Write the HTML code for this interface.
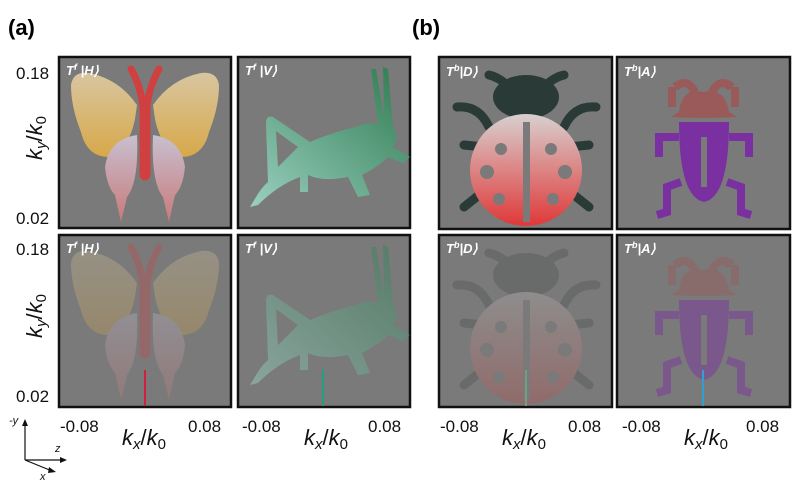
<!DOCTYPE html><html><head><style>body{margin:0;background:#fff}svg{display:block}text{font-family:"Liberation Sans",sans-serif}</style></head><body>
<svg width="800" height="494" viewBox="0 0 800 494">
<defs>
<linearGradient id="wg" x1="0" y1="0" x2="0" y2="1"><stop offset="0" stop-color="#d8c6a0"/><stop offset="1" stop-color="#d8a84a"/></linearGradient>
<linearGradient id="pg" x1="0" y1="0" x2="0" y2="1"><stop offset="0" stop-color="#c8c0d0"/><stop offset="1" stop-color="#c87a7a"/></linearGradient>
<linearGradient id="gg" x1="1" y1="0" x2="0" y2="1"><stop offset="0" stop-color="#2e7a50"/><stop offset="1" stop-color="#9ad0c0"/></linearGradient>
<linearGradient id="lg" x1="0" y1="0" x2="0" y2="1"><stop offset="0" stop-color="#d8d0d0"/><stop offset="1" stop-color="#e03838"/></linearGradient>
<g id="bfly">
<path d="M12,28 Q14,14 30,16 Q60,22 78,48 L76,62 Q70,92 50,100 Q28,100 22,75 Q12,50 12,28Z" fill="url(#wg)"/>
<path d="M160,28 Q158,14 142,16 Q112,22 94,48 L96,62 Q102,92 122,100 Q144,100 150,75 Q160,50 160,28Z" fill="url(#wg)"/>
<path d="M78,78 Q50,82 46,110 Q48,130 56,138 L62,165 L68,140 Q80,125 78,78Z" fill="url(#pg)"/>
<path d="M94,78 Q122,82 126,110 Q124,130 116,138 L110,165 L104,140 Q92,125 94,78Z" fill="url(#pg)"/>
<path d="M72,12 Q82,30 84,50 L84,118 Q86,122 88,118 L88,50 Q90,30 100,12" fill="none" stroke="#d04040" stroke-width="7" stroke-linecap="round"/>
<path d="M82,50 L90,50 L90,118 L82,118Z" fill="#d04040"/>
</g>
<g id="hopper">
<path d="M18,140 L12,150 L20,148 Q40,128 62,120 L62,135 L70,135 L70,118 Q85,125 110,120 L120,140 L132,138 L124,118 Q140,110 150,100 L165,106 L172,100 L155,90 Q162,80 155,70 L150,12 L145,10 L146,60 L138,12 L133,12 L140,68 Q130,64 118,70 Q95,75 72,85 L35,60 Q28,58 28,66 L30,125 Q24,130 18,140Z M38,74 L60,90 L40,110Z" fill="url(#gg)" fill-rule="evenodd"/>
</g>
<g id="lady">
<ellipse cx="87" cy="40" rx="33" ry="22" fill="#2a3a36"/>
<path d="M50,18 Q60,20 70,30 M125,18 Q115,20 105,30 M18,50 Q40,48 50,70 M157,50 Q135,48 125,70 M25,88 L45,90 M150,88 L130,90 M25,150 L50,130 M150,150 L125,130" stroke="#2a3a36" stroke-width="9" fill="none" stroke-linecap="round"/>
<circle cx="87" cy="113" r="56" fill="url(#lg)"/>
<rect x="84" y="65" width="7" height="100" fill="#7a7a7a"/>
<circle cx="62" cy="92" r="6" fill="#7a7a7a"/><circle cx="112" cy="92" r="6" fill="#7a7a7a"/>
<circle cx="48" cy="115" r="7" fill="#7a7a7a"/><circle cx="126" cy="115" r="7" fill="#7a7a7a"/>
<circle cx="60" cy="142" r="6" fill="#7a7a7a"/><circle cx="114" cy="142" r="6" fill="#7a7a7a"/>
</g>
<g id="beetle">
<path d="M55,50 L55,30 M65,30 L60,25 M107,30 L112,25 M118,50 L118,30 M58,30 Q70,20 78,35 M115,30 Q103,20 95,35" stroke="#9a5a5a" stroke-width="8" fill="none"/>
<path d="M62,55 Q65,30 86,35 Q108,30 112,55 L120,60 Q86,62 54,60Z" fill="#9a5a5a"/>
<path d="M62,65 L112,65 Q112,140 87,145 Q62,140 62,65Z" fill="#7a30a0"/>
<rect x="84" y="80" width="6" height="50" fill="#7a7a7a"/>
<path d="M62,80 L42,80 L42,100 M112,80 L132,80 L132,100 M64,125 L50,130 L50,155 L40,158 M110,125 L124,130 L124,155 L134,158" stroke="#7a30a0" stroke-width="8" fill="none"/>
</g>
</defs>
<text x="8" y="35" font-size="22" font-weight="bold">(a)</text>
<text x="412" y="35" font-size="22" font-weight="bold">(b)</text>
<g stroke="#111" stroke-width="2.5" fill="#7a7a7a">
<rect x="59" y="57" width="172" height="171"/><rect x="238" y="57" width="172" height="171"/>
<rect x="439" y="57" width="173" height="172"/><rect x="617" y="57" width="173" height="172"/>
<rect x="59" y="235" width="172" height="172"/><rect x="238" y="235" width="172" height="172"/>
<rect x="439" y="235" width="173" height="172"/><rect x="617" y="235" width="173" height="172"/>
</g>
<use href="#bfly" x="59" y="57"/><use href="#hopper" x="238" y="57"/>
<use href="#lady" x="439" y="57"/><use href="#beetle" x="617" y="57"/>
<use href="#bfly" x="59" y="235" opacity="0.3"/>
<use href="#lady" x="439" y="235" opacity="0.22"/>
<use href="#hopper" x="238" y="235" opacity="0.5"/>
<use href="#beetle" x="617" y="235" opacity="0.45"/>
<rect x="144" y="370" width="2" height="36" fill="#d02040"/><rect x="322" y="370" width="2" height="36" fill="#20a080"/>
<rect x="525" y="370" width="2" height="36" fill="#70a080"/><rect x="702" y="370" width="2" height="36" fill="#30a0d0"/>
<g font-family="Liberation Serif" font-style="italic" font-weight="bold" font-size="13" fill="#fff">
<text x="66" y="75">T<tspan font-size="9" dy="-5">f</tspan><tspan dy="5"> |H⟩</tspan></text>
<text x="245" y="75">T<tspan font-size="9" dy="-5">f</tspan><tspan dy="5"> |V⟩</tspan></text>
<text x="446" y="76">T<tspan font-size="9" dy="-5">b</tspan><tspan dy="5">|D⟩</tspan></text>
<text x="624" y="76">T<tspan font-size="9" dy="-5">b</tspan><tspan dy="5">|A⟩</tspan></text>
<text x="66" y="253">T<tspan font-size="9" dy="-5">f</tspan><tspan dy="5"> |H⟩</tspan></text>
<text x="245" y="253">T<tspan font-size="9" dy="-5">f</tspan><tspan dy="5"> |V⟩</tspan></text>
<text x="446" y="253">T<tspan font-size="9" dy="-5">b</tspan><tspan dy="5">|D⟩</tspan></text>
<text x="624" y="253">T<tspan font-size="9" dy="-5">b</tspan><tspan dy="5">|A⟩</tspan></text>
</g>
<g font-size="17" fill="#111">
<text x="16" y="79">0.18</text><text x="16" y="224">0.02</text>
<text x="16" y="255">0.18</text><text x="16" y="402">0.02</text>
<text x="60" y="432">-0.08</text><text x="188" y="432">0.08</text>
<text x="242" y="432">-0.08</text><text x="368" y="432">0.08</text>
<text x="440" y="432">-0.08</text><text x="568" y="432">0.08</text>
<text x="622" y="432">-0.08</text><text x="746" y="432">0.08</text>
</g>
<g font-size="22" fill="#111">
<text transform="translate(42,160) rotate(-90)"><tspan font-style="italic">k</tspan><tspan font-size="15" dy="4" font-style="italic">y</tspan><tspan dy="-4">/</tspan><tspan font-style="italic">k</tspan><tspan font-size="15" dy="4">0</tspan></text>
<text transform="translate(42,338) rotate(-90)"><tspan font-style="italic">k</tspan><tspan font-size="15" dy="4" font-style="italic">y</tspan><tspan dy="-4">/</tspan><tspan font-style="italic">k</tspan><tspan font-size="15" dy="4">0</tspan></text>
<text x="122" y="445"><tspan font-style="italic">k</tspan><tspan font-size="15" dy="4" font-style="italic">x</tspan><tspan dy="-4">/</tspan><tspan font-style="italic">k</tspan><tspan font-size="15" dy="4">0</tspan></text>
<text x="304" y="445"><tspan font-style="italic">k</tspan><tspan font-size="15" dy="4" font-style="italic">x</tspan><tspan dy="-4">/</tspan><tspan font-style="italic">k</tspan><tspan font-size="15" dy="4">0</tspan></text>
<text x="502" y="445"><tspan font-style="italic">k</tspan><tspan font-size="15" dy="4" font-style="italic">x</tspan><tspan dy="-4">/</tspan><tspan font-style="italic">k</tspan><tspan font-size="15" dy="4">0</tspan></text>
<text x="684" y="445"><tspan font-style="italic">k</tspan><tspan font-size="15" dy="4" font-style="italic">x</tspan><tspan dy="-4">/</tspan><tspan font-style="italic">k</tspan><tspan font-size="15" dy="4">0</tspan></text>
</g>
<g stroke="#111" stroke-width="1.2" fill="none">
<path d="M25,460 L25,422 M25,460 L64,460 M25,460 L52,471"/>
</g>
<path d="M25,419 L22,426 L28,426Z M67,460 L60,457 L60,463Z M56,472 L49,467 L48,473Z" fill="#111"/>
<g font-size="11" font-style="italic" fill="#111"><text x="9" y="424">-y</text><text x="55" y="452">z</text><text x="40" y="480">x</text></g>
</svg>
</body></html>
